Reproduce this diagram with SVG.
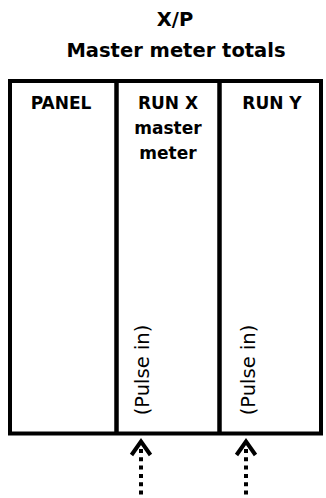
<svg xmlns="http://www.w3.org/2000/svg" width="326" height="498" viewBox="0 0 326 498">
<style>
.title{font-family:"DejaVu Sans",sans-serif;font-weight:bold;font-size:19.5px;fill:#000;text-anchor:middle}
.head{font-family:"DejaVu Sans",sans-serif;font-weight:bold;font-size:17px;fill:#000;text-anchor:middle}
.pulse{font-family:"DejaVu Sans",sans-serif;font-size:19.5px;fill:#000;text-anchor:middle}
.frame{fill:#fff;stroke:#000;stroke-width:4}
.div{stroke:#000;stroke-width:4.5;fill:none}
.dots{stroke:#000;stroke-width:4;stroke-dasharray:4 4.3;fill:none}
.chev{stroke:#000;stroke-width:4;fill:none;stroke-linejoin:miter;stroke-miterlimit:10}
</style>
<rect width="326" height="498" fill="#fff"/>
<g id="title">
<text class="title" x="175" y="26">X/P</text>
<text class="title" x="176" y="57">Master meter totals</text>
</g>
<g id="frame">
<rect class="frame" x="10" y="81" width="311" height="352.5"/>
</g>
<g id="panel">
<text class="head" x="61" y="109">PANEL</text>
</g>
<g id="runx">
<line class="div" x1="116.5" y1="81" x2="116.5" y2="433.5"/>
<text class="head" x="168" y="109">RUN X</text>
<text class="head" x="168" y="134">master</text>
<text class="head" x="168" y="159">meter</text>
<text class="pulse" transform="translate(149,370) rotate(-90)">(Pulse in)</text>
</g>
<g id="runy">
<line class="div" x1="219.5" y1="81" x2="219.5" y2="433.5"/>
<text class="head" x="272" y="109">RUN Y</text>
<text class="pulse" transform="translate(255,370) rotate(-90)">(Pulse in)</text>
</g>
<g id="connectors">
<line class="dots" x1="141" y1="449" x2="141" y2="498"/>
<polyline class="chev" points="131.5,455 141,441.5 150.5,455"/>
<line class="dots" x1="246" y1="449" x2="246" y2="498"/>
<polyline class="chev" points="236.5,455 246,441.5 255.5,455"/>
</g>
</svg>
